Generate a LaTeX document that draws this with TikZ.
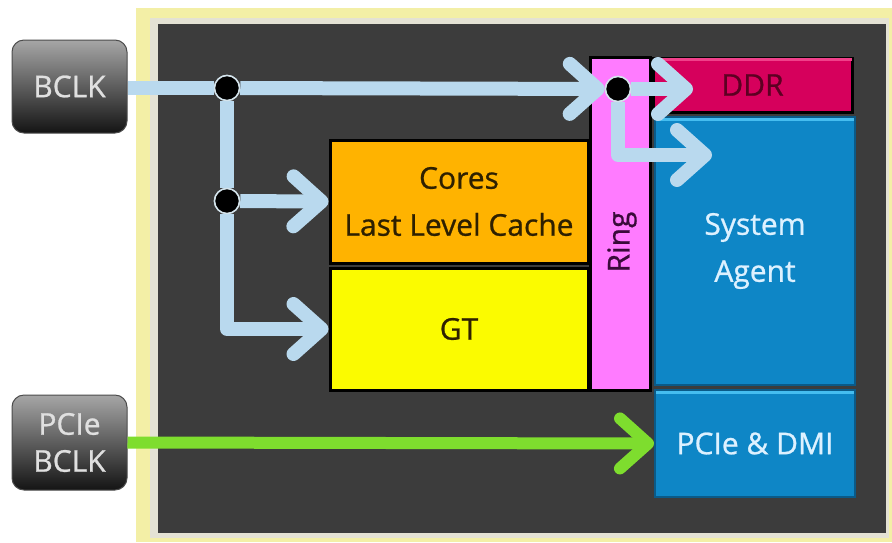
\documentclass[tikz,border=0pt]{standalone}
\usepackage{fontspec}
\setmainfont{Open Sans}[FakeBold=0.8]
\usetikzlibrary{arrows.meta}
\definecolor{frameYellow}{HTML}{F3EFA6}
\definecolor{frameGrey}{HTML}{E4E2D4}
\definecolor{chip}{HTML}{3C3C3C}
\definecolor{clkTop}{HTML}{A6A6A6}
\definecolor{clkBot}{HTML}{141414}
\definecolor{clkText}{HTML}{E0E0E0}
\definecolor{coresC}{HTML}{FFB300}
\definecolor{gtC}{HTML}{FBFB00}
\definecolor{ringC}{HTML}{FF7BFF}
\definecolor{ddrC}{HTML}{D6005C}
\definecolor{ddrHi}{HTML}{F0408A}
\definecolor{ddrText}{HTML}{5C0022}
\definecolor{saC}{HTML}{0E86C6}
\definecolor{saHi}{HTML}{45BDF0}
\definecolor{saEdge}{HTML}{0A5A88}
\definecolor{saText}{HTML}{DDF1FF}
\definecolor{darkText}{HTML}{2E2000}
\definecolor{ringText}{HTML}{3A0A3A}
\definecolor{arrBlue}{HTML}{B9D9EE}
\definecolor{arrGreen}{HTML}{7EDD2E}
\definecolor{dotEdge}{HTML}{D4E4EC}
\begin{document}
\begin{tikzpicture}[x=1pt,y=-1pt,
  txt/.style={font=\fontsize{30}{47}\selectfont, align=center},
  blk/.style={txt, draw=black, line width=3pt, inner sep=0pt},
  bluebox/.style={txt, fill=saC, draw=saEdge, line width=2pt, text=saText, inner sep=0pt, minimum width=200pt},
  clk/.style={rounded corners=12pt, top color=clkTop, bottom color=clkBot, draw=black!70, line width=1pt,
    minimum width=115pt, text=clkText, align=center, inner sep=0pt},
  dot/.style={circle, fill=black, draw=dotEdge, line width=1.5pt, minimum size=25pt, inner sep=0pt},
  bluelin/.style={draw=arrBlue, line width=14pt, line join=round},
  bluearr/.style={bluelin, -{Straight Barb[length=28pt,width=50pt,round]}},
  greenarr/.style={draw=arrGreen, line width=12pt, line join=round, -{Straight Barb[length=28pt,width=50pt,round]}}
]
\useasboundingbox (0,0) rectangle (892,542);
\fill[white] (0,0) rectangle (892,542);
% frame
\fill[frameYellow] (136,8) rectangle (892,542);
\fill[frameGrey] (150,18) rectangle (889,538);
\fill[chip] (158,24) rectangle (886,533);

% clock boxes
\node[clk, minimum height=93pt, font=\fontsize{30}{40}\selectfont] (bclk) at (69.5,86.5) {BCLK};
\node[clk, minimum height=95pt, font=\fontsize{30}{40}\selectfont] (pcieclk) at (69.5,442.5) {PCIe\\[-3pt]BCLK};

% blocks
\node[blk, fill=coresC, text=darkText, minimum width=258pt, minimum height=123pt] (cores) at (459,201.5) {Cores\\Last Level Cache};
\node[blk, fill=gtC, text=darkText, minimum width=258pt, minimum height=122pt] (gt) at (459,329) {GT};
\node[blk, fill=ringC, minimum width=60pt, minimum height=333pt] (ring) at (620,223.5) {};
\node[txt, rotate=90, text=ringText] (ringlbl) at (622,242) {Ring};
\node[blk, fill=ddrC, text=ddrText, minimum width=199pt, minimum height=54pt] (ddr) at (752.5,85) {DDR};
\node[bluebox, minimum height=268pt] (sa) at (755,251) {System\\Agent};
\node[bluebox, minimum height=107pt] (pcie) at (755,443.5) {PCIe \& DMI};

% bevel highlights
\draw[ddrHi, line width=2.5pt] ([yshift=-3pt,xshift=2pt]ddr.north west) -- ([yshift=-3pt,xshift=-2pt]ddr.north east);
\draw[saHi, line width=3pt] ([yshift=-3pt,xshift=2pt]sa.north west) -- ([yshift=-3pt,xshift=-2pt]sa.north east);
\draw[saHi, line width=3pt] ([yshift=-3pt,xshift=2pt]pcie.north west) -- ([yshift=-3pt,xshift=-2pt]pcie.north east);

% junctions
\node[dot] (j1) at (227,88) {};
\node[dot] (j2) at (227,201) {};
\node[dot] (j3) at (618,89) {};
\coordinate (ddrin) at (693,89);
\coordinate (sain) at (712,155);

% connectors
\draw[bluelin] (bclk.east |- j1) -- (j1);
\draw[bluearr] (j1) -- (j3);
\draw[bluelin] (j1) -- (j2);
\draw[bluearr] (j2) -- (cores.west);
\draw[bluearr] (j2) |- (gt.west);
\draw[bluearr] (j3) -- (ddrin);
\draw[bluearr] (j3) |- (sain);
\draw[greenarr] (pcieclk.east) -- (pcie.west);

% redraw dots on top
\node[dot] at (j1) {};
\node[dot] at (j2) {};
\node[dot] at (j3) {};
\end{tikzpicture}
\end{document}
